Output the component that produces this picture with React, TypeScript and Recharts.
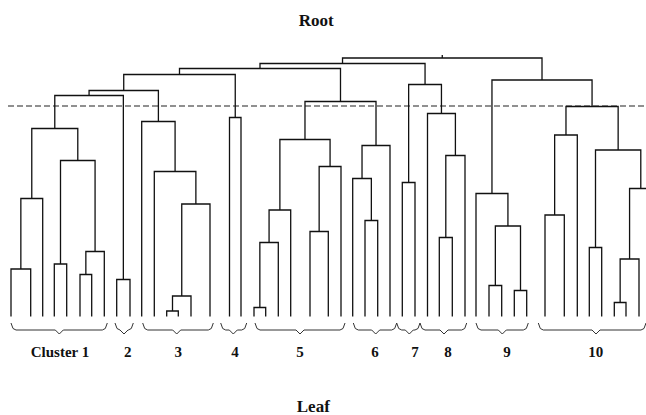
import React from "react";
import { ComposedChart, Line, Scatter, XAxis, YAxis } from "recharts";

// leaf positions, left to right
const leafX = [
  11, 30.7, 42.7, 54.3, 66.7, 80, 91.7, 104.3, // cluster 1
  116.7, 130, // 2
  141.7, 154.3, 166.7, 178.3, 191, 210, // 3
  229.5, 241, // 4
  254, 265.7, 278.3, 290.7, 310, 328.3, 341, // 5
  352.7, 365, 377.7, 390, // 6
  402.3, 415, // 7
  427.5, 439.3, 452.3, 465, // 8
  476, 489, 501.7, 514.3, 526.7, // 9
  545, 564.3, 577.3, 589.3, 601.7, 614.3, 626, 639, 652, // 10
];

// [left, right, height]; ids >= leafX.length point at earlier merges
const merges: [number, number, number][] = [
  [0, 1, 47.5], [49, 2, 118], [3, 4, 52.5], [5, 6, 42], [52, 7, 65],
  [51, 53, 156], [50, 54, 188],
  [8, 9, 37], [55, 56, 221],
  [12, 13, 5.5], [58, 14, 20.5], [59, 15, 112.5], [11, 60, 145], [10, 61, 195],
  [57, 62, 226],
  [16, 17, 199], [63, 64, 242],
  [18, 19, 9], [66, 20, 74], [67, 21, 106.5], [22, 23, 85], [69, 24, 150],
  [68, 70, 177],
  [26, 27, 96], [25, 72, 138], [73, 28, 171],
  [71, 74, 215], [65, 75, 248],
  [29, 30, 134],
  [32, 33, 79], [78, 34, 161], [31, 79, 203],
  [77, 80, 232], [76, 81, 253],
  [36, 37, 31], [38, 39, 26], [83, 84, 90.5], [35, 85, 123],
  [40, 41, 101.5], [87, 42, 181.5], [43, 44, 69], [45, 46, 14], [90, 47, 57.5],
  [91, 48, 128], [89, 92, 166.5], [88, 93, 210],
  [86, 94, 236.5],
  [82, 95, 258.5],
];

const cutHeight = 210.5;

const clusterLabels = ["Cluster 1", "2", "3", "4", "5", "6", "7", "8", "9", "10"];
const labelX = [60, 127.7, 178.3, 235, 300, 375, 415, 448, 507, 595.7];
const braceStart = [11, 115, 142.7, 220.7, 255, 353.3, 396.7, 420, 476, 538.3];
const braceEnd = [107.3, 133.3, 213.3, 246.7, 345, 396.7, 420, 466.7, 528.3, 646];
const braceTip = [59.3, 124, 176.7, 233.3, 300, 375.7, 409.3, 444, 502.3, 596];

type Pt = { x: number; y: number };

const nodeX = [...leafX];
const nodeH = leafX.map(() => 0);
const links: Pt[][] = merges.map(([a, b, h]) => {
  const seg = [
    { x: nodeX[a], y: nodeH[a] },
    { x: nodeX[a], y: h },
    { x: nodeX[b], y: h },
    { x: nodeX[b], y: nodeH[b] },
  ];
  nodeX.push((nodeX[a] + nodeX[b]) / 2);
  nodeH.push(h);
  return seg;
});
const rootId = nodeX.length - 1;
const rootStem: Pt[] = [
  { x: nodeX[rootId], y: nodeH[rootId] },
  { x: nodeX[rootId], y: nodeH[rootId] + 3 },
];

const braces: Pt[][] = braceStart.map((s, i) => {
  const e = braceEnd[i];
  const t = braceTip[i];
  return [
    { x: s, y: -6.5 }, { x: s + 2, y: -12 }, { x: s + 5, y: -13.5 },
    { x: t - 4, y: -13.5 }, { x: t, y: -17.5 }, { x: t + 4, y: -13.5 },
    { x: e - 5, y: -13.5 }, { x: e - 2, y: -12 }, { x: e, y: -6.5 },
  ];
});

const texts = [
  { x: 316.3, y: 291, label: "Root", size: 17 },
  { x: 313.3, y: -95.5, label: "Leaf", size: 17 },
  ...clusterLabels.map((label, i) => ({ x: labelX[i], y: -40.5, label, size: 15 })),
];

const cutLine: Pt[] = [
  { x: 8, y: cutHeight },
  { x: 646, y: cutHeight },
];

const INK = "#111";

const TextShape = (props: any) => {
  const { cx, cy, payload } = props;
  return (
    <text
      x={cx}
      y={cy}
      textAnchor="middle"
      fontFamily="'Liberation Serif', 'DejaVu Serif', serif"
      fontWeight="bold"
      fontSize={payload.size}
      fill="#111"
    >
      {payload.label}
    </text>
  );
};

export default function App() {
  return (
    <div style={{ position: "absolute", left: 0, top: 0, background: "#fff" }}>
      <ComposedChart width={646} height={415} margin={{ top: 0, right: 0, bottom: 0, left: 0 }}>
        <XAxis type="number" dataKey="x" domain={[0, 646]} hide allowDataOverflow />
        <YAxis type="number" dataKey="y" domain={[-98.5, 316.5]} hide allowDataOverflow />
        <Line
          data={cutLine}
          dataKey="y"
          type="linear"
          stroke="#222"
          strokeWidth={1.2}
          strokeDasharray="6 3"
          dot={false}
          activeDot={false}
          isAnimationActive={false}
        />
        {links.map((seg, i) => (
          <Line
            key={`l${i}`}
            data={seg}
            dataKey="y"
            type="linear"
            stroke={INK}
            strokeWidth={1.3}
            dot={false}
            activeDot={false}
            isAnimationActive={false}
          />
        ))}
        <Line
          data={rootStem}
          dataKey="y"
          type="linear"
          stroke={INK}
          strokeWidth={1.3}
          dot={false}
          activeDot={false}
          isAnimationActive={false}
        />
        {braces.map((seg, i) => (
          <Line
            key={`b${i}`}
            data={seg}
            dataKey="y"
            type="linear"
            stroke="#333"
            strokeWidth={1}
            dot={false}
            activeDot={false}
            isAnimationActive={false}
          />
        ))}
        <Scatter data={texts} shape={TextShape} isAnimationActive={false} />
      </ComposedChart>
    </div>
  );
}
